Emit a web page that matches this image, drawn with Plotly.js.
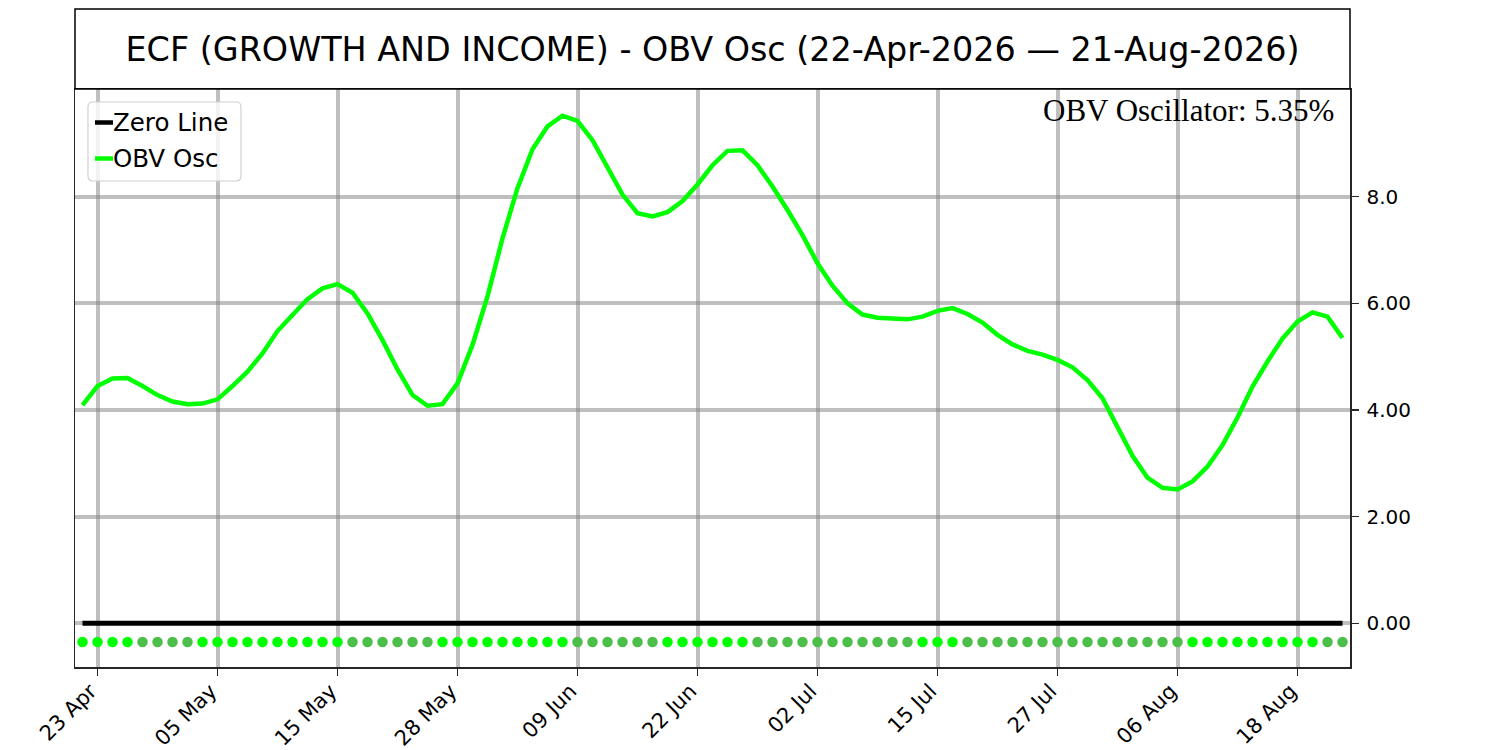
<!DOCTYPE html>
<html>
<head>
<meta charset="utf-8">
<script src="https://cdn.plot.ly/plotly-3.0.1.min.js"></script>
<style>
  html, body { margin: 0; padding: 0; background: #ffffff; }
  #chart { width: 1500px; height: 750px; }
</style>
</head>
<body>
<div id="chart"></div>
<script>
// ---------------- data ----------------
const dates = [
  '2026-04-22','2026-04-23','2026-04-24','2026-04-27','2026-04-28','2026-04-29','2026-04-30',
  '2026-05-01','2026-05-04','2026-05-05','2026-05-06','2026-05-07','2026-05-08','2026-05-11',
  '2026-05-12','2026-05-13','2026-05-14','2026-05-15','2026-05-18','2026-05-19','2026-05-20',
  '2026-05-21','2026-05-22','2026-05-26','2026-05-27','2026-05-28','2026-05-29',
  '2026-06-01','2026-06-02','2026-06-03','2026-06-04','2026-06-05','2026-06-08','2026-06-09',
  '2026-06-10','2026-06-11','2026-06-12','2026-06-15','2026-06-16','2026-06-17','2026-06-18',
  '2026-06-22','2026-06-23','2026-06-24','2026-06-25','2026-06-26','2026-06-29','2026-06-30',
  '2026-07-01','2026-07-02','2026-07-06','2026-07-07','2026-07-08','2026-07-09','2026-07-10',
  '2026-07-13','2026-07-14','2026-07-15','2026-07-16','2026-07-17','2026-07-20','2026-07-21',
  '2026-07-22','2026-07-23','2026-07-24','2026-07-27','2026-07-28','2026-07-29','2026-07-30',
  '2026-07-31','2026-08-03','2026-08-04','2026-08-05','2026-08-06','2026-08-07','2026-08-10',
  '2026-08-11','2026-08-12','2026-08-13','2026-08-14','2026-08-17','2026-08-18','2026-08-19',
  '2026-08-20','2026-08-21'
];

const obvOsc = [
  4.09, 4.45, 4.59, 4.60, 4.45, 4.28, 4.16, 4.11, 4.12, 4.20,
  4.45, 4.72, 5.06, 5.48, 5.78, 6.08, 6.28, 6.36, 6.20, 5.81,
  5.31, 4.76, 4.28, 4.08, 4.11, 4.50, 5.22, 6.13, 7.22, 8.16,
  8.89, 9.32, 9.52, 9.42, 9.06, 8.56, 8.04, 7.69, 7.63, 7.71,
  7.92, 8.23, 8.59, 8.86, 8.87, 8.59, 8.19, 7.75, 7.28, 6.75,
  6.33, 6.00, 5.79, 5.73, 5.72, 5.70, 5.75, 5.86, 5.91, 5.80,
  5.64, 5.41, 5.23, 5.11, 5.04, 4.94, 4.80, 4.56, 4.22, 3.69,
  3.14, 2.73, 2.54, 2.51, 2.66, 2.94, 3.34, 3.86, 4.44, 4.91,
  5.34, 5.66, 5.83, 5.75, 5.35
];

// 1 = rising (bright dot), 0 = falling (dark dot)
const trendUp = [
  1,1,1,1,0,0,0,0,1,1,
  1,1,1,1,1,1,1,1,0,0,
  0,0,0,0,1,1,1,1,1,1,
  1,1,1,0,0,0,0,0,0,1,
  1,1,1,1,1,0,0,0,0,0,
  0,0,0,0,0,0,1,1,1,0,
  0,0,0,0,0,0,0,0,0,0,
  0,0,0,0,1,1,1,1,1,1,
  1,1,1,0,0
];

const tickDates  = ['2026-04-23','2026-05-05','2026-05-15','2026-05-28','2026-06-09','2026-06-22',
                    '2026-07-02','2026-07-15','2026-07-27','2026-08-06','2026-08-18'];
const tickLabels = ['23 Apr','05 May','15 May','28 May','09 Jun','22 Jun',
                    '02 Jul','15 Jul','27 Jul','06 Aug','18 Aug'];

const yTickValues = [0, 2, 4, 6, 8];
const yTickLabels = ['0.00', '2.00', '4.00', '6.00', '8.0'];

const signalLevel = -0.35;
const chartTitle = 'ECF (GROWTH AND INCOME) - OBV Osc (22-Apr-2026 \u2014 21-Aug-2026)';
const lastValueText = 'OBV Oscillator: 5.35%';

// ---------------- build ----------------
const idx = dates.map((d, i) => i);
const tickIdx = tickDates.map(d => dates.indexOf(d));

const BRIGHT = '#00ff00';
const DARK = '#4cbf4a';

const W = 1500, H = 750;
const M = { l: 75, r: 150, t: 89, b: 83 };
const PW = W - M.l - M.r, PH = H - M.t - M.b;
const px = x => (x - M.l) / PW;
const py = y => (H - M.b - y) / PH;

const traces = [
  {
    x: idx, y: idx.map(() => 0),
    type: 'scatter', mode: 'lines', name: 'Zero Line',
    line: { color: '#000000', width: 5 },
    showlegend: false, hoverinfo: 'skip'
  },
  {
    x: idx, y: obvOsc,
    type: 'scatter', mode: 'lines', name: 'OBV Osc',
    line: { color: BRIGHT, width: 4.5 },
    showlegend: false
  },
  {
    x: idx, y: idx.map(() => signalLevel),
    type: 'scatter', mode: 'markers', name: 'Trend',
    marker: { size: 10.5, color: trendUp.map(t => t ? BRIGHT : DARK), line: { width: 0 } },
    showlegend: false, hoverinfo: 'skip'
  }
];

// legend box (rounded) in paper coordinates
function roundRect(x0, y0, x1, y1, r) {
  const X = px, Y = py;
  return 'M' + X(x0 + r) + ',' + Y(y0) +
    ' L' + X(x1 - r) + ',' + Y(y0) +
    ' Q' + X(x1) + ',' + Y(y0) + ' ' + X(x1) + ',' + Y(y0 + r) +
    ' L' + X(x1) + ',' + Y(y1 - r) +
    ' Q' + X(x1) + ',' + Y(y1) + ' ' + X(x1 - r) + ',' + Y(y1) +
    ' L' + X(x0 + r) + ',' + Y(y1) +
    ' Q' + X(x0) + ',' + Y(y1) + ' ' + X(x0) + ',' + Y(y1 - r) +
    ' L' + X(x0) + ',' + Y(y0 + r) +
    ' Q' + X(x0) + ',' + Y(y0) + ' ' + X(x0 + r) + ',' + Y(y0) + ' Z';
}

const legendItems = [
  { label: 'Zero Line', color: '#000000', y: 122.5 },
  { label: 'OBV Osc', color: BRIGHT, y: 158.5 }
];

const shapes = [
  // title box
  { type: 'rect', xref: 'paper', yref: 'paper', x0: 0, x1: 1, y0: 1, y1: py(9),
    line: { color: '#000000', width: 1.5 }, fillcolor: 'rgba(0,0,0,0)' },
  // legend frame
  { type: 'path', xref: 'paper', yref: 'paper', path: roundRect(88, 102, 241, 181, 5),
    line: { color: '#d0d0d0', width: 1.2 }, fillcolor: 'rgba(255,255,255,0.8)', layer: 'above' }
];
legendItems.forEach(it => {
  shapes.push({ type: 'line', xref: 'paper', yref: 'paper',
    x0: px(95), x1: px(113), y0: py(it.y), y1: py(it.y),
    line: { color: it.color, width: 4.5 }, layer: 'above' });
});

const annotations = [
  { xref: 'paper', yref: 'paper', x: px(1336), y: py(110), xanchor: 'right', yanchor: 'middle',
    text: lastValueText, showarrow: false,
    font: { family: 'Liberation Serif, Times New Roman, serif', size: 31, color: '#000000' } }
];
legendItems.forEach(it => {
  annotations.push({ xref: 'paper', yref: 'paper', x: px(111), y: py(it.y), xanchor: 'left', yanchor: 'middle',
    text: it.label, showarrow: false,
    font: { family: 'DejaVu Sans, sans-serif', size: 24.5, color: '#000000' } });
});

const layout = {
  width: W, height: H,
  margin: M,
  paper_bgcolor: '#ffffff', plot_bgcolor: '#ffffff',
  showlegend: false,
  hovermode: false,
  title: {
    text: chartTitle,
    font: { family: 'DejaVu Sans, sans-serif', size: 33.4, color: '#000000' },
    x: 0.5, xref: 'paper', xanchor: 'center',
    y: 1 - 49 / H, yref: 'container', yanchor: 'middle'
  },
  xaxis: {
    range: [-0.5, dates.length - 0.5],
    tickmode: 'array', tickvals: tickIdx, ticktext: tickLabels,
    tickangle: -45,
    tickfont: { family: 'DejaVu Sans, sans-serif', size: 21, color: '#000000' },
    ticks: 'outside', ticklen: 7, tickwidth: 1.5, tickcolor: '#262626',
    ticklabelshift: -7,
    ticklabelstandoff: -5,
    showgrid: true, gridcolor: 'rgba(128,128,128,0.5)', gridwidth: 4,
    showline: true, linecolor: '#262626', linewidth: 1.5, mirror: true,
    zeroline: false, fixedrange: true
  },
  yaxis: {
    side: 'right',
    range: [-0.82, 10.02],
    tickmode: 'array', tickvals: yTickValues, ticktext: yTickLabels,
    tickfont: { family: 'DejaVu Sans, sans-serif', size: 20, color: '#000000' },
    ticks: 'outside', ticklen: 7, tickwidth: 1.5, tickcolor: '#262626',
    ticklabelstandoff: 4,
    showgrid: true, gridcolor: 'rgba(128,128,128,0.5)', gridwidth: 4,
    showline: true, linecolor: '#262626', linewidth: 1.5, mirror: true,
    zeroline: false, fixedrange: true
  },
  shapes: shapes,
  annotations: annotations
};

Plotly.newPlot('chart', traces, layout, { displayModeBar: false, staticPlot: true });
</script>
</body>
</html>
